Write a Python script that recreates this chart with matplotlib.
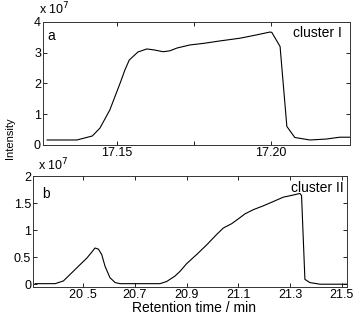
#!/usr/bin/env python3
"""Two-panel chromatogram (cluster I / cluster II)"""

import matplotlib
matplotlib.use('Agg')
import matplotlib.pyplot as plt

plt.rcParams['font.family'] = ['Liberation Sans', 'DejaVu Sans']
plt.rcParams['font.size'] = 9

# panel a: retention time (min) and intensity (x 1e7)
time_a = [17.1273, 17.137, 17.142, 17.1445, 17.1477, 17.151, 17.1526, 17.154,
          17.1568, 17.1597, 17.162, 17.165, 17.1672, 17.1695, 17.1737, 17.178,
          17.1834, 17.19, 17.1955, 17.1997, 17.2003, 17.203, 17.2052, 17.2078,
          17.2127, 17.218, 17.2224, 17.2257]
int_a = [0.16, 0.16, 0.29, 0.55, 1.14, 2.0, 2.44, 2.76,
         3.02, 3.12, 3.09, 3.03, 3.06, 3.15, 3.25, 3.30,
         3.38, 3.47, 3.58, 3.67, 3.66, 3.2, 0.6, 0.24,
         0.16, 0.19, 0.25, 0.25]

# panel b
time_b = [20.315, 20.392, 20.424, 20.456, 20.488, 20.514, 20.533, 20.546,
          20.559, 20.572, 20.585, 20.604, 20.624, 20.643, 20.797, 20.823,
          20.855, 20.875, 20.9, 20.939, 20.978, 21.016, 21.042, 21.074,
          21.1, 21.125, 21.158, 21.196, 21.235, 21.273, 21.312, 21.338,
          21.344, 21.357, 21.376, 21.415, 21.505, 21.52]
int_b = [0.01, 0.01, 0.06, 0.21, 0.36, 0.48, 0.59, 0.67,
         0.65, 0.55, 0.33, 0.12, 0.03, 0.01, 0.01, 0.05,
         0.15, 0.24, 0.38, 0.55, 0.73, 0.92, 1.04, 1.12,
         1.21, 1.30, 1.38, 1.45, 1.53, 1.61, 1.65, 1.68,
         1.64, 0.09, 0.03, 0.0, 0.0, 0.0]

ticks_a = [17.15, 17.175, 17.20]
ticklabels_a = ['17.15', '', '17.20']
ticks_b = [20.5, 20.7, 20.9, 21.1, 21.3, 21.5]
ticklabels_b = ['20 .5', '20.7', '20.9', '21.1', '21.3', '21.5']


def style(ax):
    ax.tick_params(direction='in', top=True, right=True, length=3,
                   width=0.6, labelsize=9, pad=1.5)
    for s in ax.spines.values():
        s.set_linewidth(0.7)
        s.set_color('#333333')


fig = plt.figure(figsize=(3.56, 3.22), dpi=100)

ax1 = fig.add_axes([0.121, 0.550, 0.862, 0.382])
ax1.plot(time_a, int_a, color='black', linewidth=0.8)
ax1.set_xlim(17.126, 17.2257)
ax1.set_ylim(0, 4)
ax1.set_yticks([0, 1, 2, 3, 4])
ax1.set_xticks(ticks_a)
ax1.set_xticklabels(ticklabels_a)
style(ax1)
ax1.text(0.015, 0.85, 'a', transform=ax1.transAxes, fontsize=10)
ax1.text(0.975, 0.88, 'cluster I', transform=ax1.transAxes, fontsize=10,
         ha='right')

ax2 = fig.add_axes([0.093, 0.109, 0.882, 0.344])
ax2.plot(time_b, int_b, color='black', linewidth=0.8)
ax2.set_xlim(20.307, 21.52)
ax2.set_ylim(-0.05, 2)
ax2.set_yticks([0, 0.5, 1, 1.5, 2])
ax2.set_yticklabels(['0', '0.5', '1', '1.5', '2'])
ax2.set_xticks(ticks_b)
ax2.set_xticklabels(ticklabels_b)
style(ax2)
ax2.text(0.03, 0.8, 'b', transform=ax2.transAxes, fontsize=10)
ax2.text(0.99, 0.86, 'cluster II', transform=ax2.transAxes, fontsize=10,
         ha='right')

# exponent labels
fig.text(0.11, 0.957, r'x 10$^{7}$', fontsize=9)
fig.text(0.107, 0.47, r'x 10$^{7}$', fontsize=9)

fig.text(0.028, 0.571, 'Intensity', rotation=90, fontsize=8,
         ha='center', va='center')
fig.text(0.545, 0.042, 'Retention time / min', fontsize=10,
         ha='center', va='center')

fig.savefig('out.png', dpi=100)
